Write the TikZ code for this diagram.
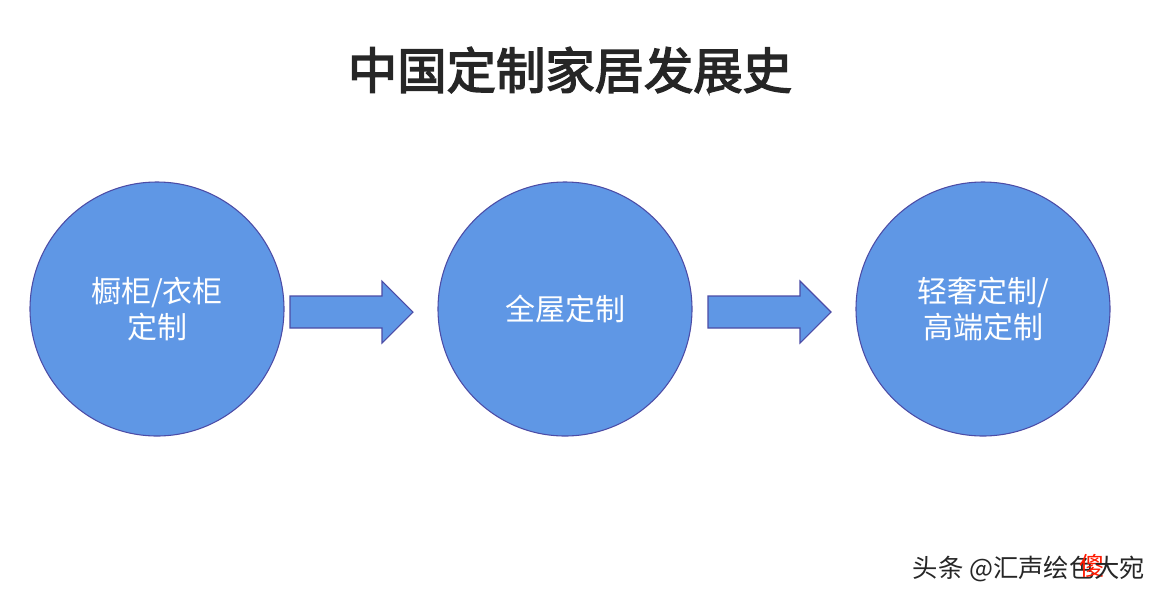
\documentclass[tikz,border=0pt]{standalone}
\usepackage{fontspec}
\setmainfont{Noto Sans CJK SC}
\newfontfamily\cjkb[FakeBold=3]{Noto Sans CJK SC}
\begin{document}
\begin{tikzpicture}[x=0.75pt,y=-0.75pt,
  circ/.style={circle,draw=blue!50!black!70,fill=cblue,line width=0.8pt,minimum size=254*0.75pt,inner sep=0,text=white,font=\fontsize{22.5pt}{27pt}\selectfont,align=center},
  arr/.style={draw=blue!50!black!70,fill=cblue,line width=0.8pt}]
\definecolor{cblue}{HTML}{5F97E5}
\useasboundingbox (0,0) rectangle (1165,601);
\node[font=\cjkb\fontsize{37pt}{40pt}\selectfont,text=black!85] (t) at (570,70) {中国定制家居发展史};
\node[circ] (c1) at (157,309) {橱柜/衣柜\\定制};
\node[circ] (c2) at (565,309) {全屋定制};
\node[circ] (c3) at (983,309) {轻奢定制/\\高端定制};
\draw[arr] (290,296) -- (382,296) -- (382,281) -- (413,312) -- (382,343) -- (382,328) -- (290,328) -- cycle;
\draw[arr] (708,296) -- (800,296) -- (800,281) -- (831,312) -- (800,343) -- (800,328) -- (708,328) -- cycle;
\node[anchor=east,font=\fontsize{19pt}{22pt}\selectfont,text=black!85] (w) at (1150,568) {头条 @汇声绘色\kern-0.6em{\color{red!80!orange}\raisebox{2pt}{傻}}\kern-0.4em大宛};
\end{tikzpicture}
\end{document}
